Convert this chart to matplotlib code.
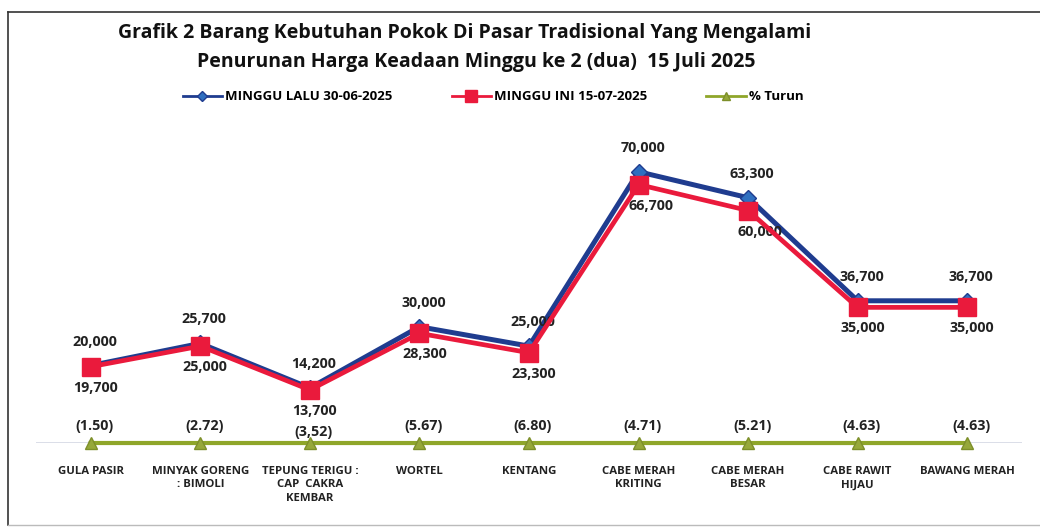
import matplotlib.pyplot as plt
from matplotlib.lines import Line2D

plt.rcParams['font.family'] = ['Open Sans', 'DejaVu Sans']

kategori = ['GULA PASIR', 'MINYAK GORENG\n: BIMOLI', 'TEPUNG TERIGU :\nCAP  CAKRA\nKEMBAR',
            'WORTEL', 'KENTANG', 'CABE MERAH\nKRITING', 'CABE MERAH\nBESAR',
            'CABE RAWIT\nHIJAU', 'BAWANG MERAH']
minggu_lalu = [20000, 25700, 14200, 30000, 25000, 70000, 63300, 36700, 36700]
minggu_ini = [19700, 25000, 13700, 28300, 23300, 66700, 60000, 35000, 35000]
persen_turun = [-1.50, -2.72, -3.52, -5.67, -6.80, -4.71, -5.21, -4.63, -4.63]
label_persen = ['(1.50)', '(2.72)', '(3,52)', '(5.67)', '(6.80)', '(4.71)', '(5.21)', '(4.63)', '(4.63)']

biru = '#1f3c8f'
merah = '#ea1a3c'
hijau = '#8fa62a'

fig = plt.figure(figsize=(10.4, 5.27), dpi=100)
ax = fig.add_axes([36 / 1040, 84 / 527, 986 / 1040, 310 / 527])
x = list(range(len(kategori)))

ax.axhline(0, color='#4a5a8a', lw=1.0, zorder=1)
ax.plot(x, minggu_lalu, color=biru, lw=3.6, marker='D', ms=8, mfc='#2f6fc0', mec=biru, zorder=3)
ax.plot(x, minggu_ini, color=merah, lw=3.4, marker='s', ms=12.5, mfc=merah, mec=merah, zorder=4)
ax.plot(x, persen_turun, color=hijau, lw=3.0, marker='^', ms=9, mfc='#96a83a', mec='#7d8f2a',
        zorder=5, clip_on=False)

ax.set_xlim(-0.5, 8.5)
ax.set_ylim(0, 80000)
ax.axis('off')

lbl = dict(fontsize=10.3, fontweight='bold', color='#222222', ha='center', va='center',
           textcoords='offset pixels')
for i in x:
    ax.annotate(f'{minggu_lalu[i]:,}', (i, minggu_lalu[i]), xytext=(4, 24), **lbl)
    dx = 12 if i in (5, 6) else 5
    ax.annotate(f'{minggu_ini[i]:,}', (i, minggu_ini[i]), xytext=(dx, -21), **lbl)
    dy = 11 if i == 2 else 17
    ax.annotate(label_persen[i], (i, 0), xytext=(4, dy), **lbl)
    ax.annotate(kategori[i], (i, 0), xytext=(0, -23), fontsize=8.2, fontweight='bold',
                color='#222222', ha='center', va='top', textcoords='offset pixels',
                linespacing=1.3)

fig.text(0.447, 1 - 33 / 527, 'Grafik 2 Barang Kebutuhan Pokok Di Pasar Tradisional Yang Mengalami',
         fontsize=14, fontweight='bold', ha='center', va='center', color='#111111')
fig.text(0.458, 1 - 62 / 527, 'Penurunan Harga Keadaan Minggu ke 2 (dua)  15 Juli 2025',
         fontsize=14, fontweight='bold', ha='center', va='center', color='#111111')

handles = [
    Line2D([], [], color=biru, lw=2, marker='D', ms=5, mfc='#2f6fc0', mec=biru),
    Line2D([], [], color=merah, lw=2, marker='s', ms=8, mfc=merah, mec=merah),
    Line2D([], [], color=hijau, lw=2, marker='^', ms=6, mfc='#96a83a', mec='#7d8f2a'),
]
fig.legend(handles, ['MINGGU LALU 30-06-2025', 'MINGGU INI 15-07-2025', '% Turun'],
           loc='center', bbox_to_anchor=(0.474, 1 - 97 / 527), ncol=3, frameon=False,
           prop={'size': 9.5, 'weight': 'bold'}, handlelength=3.0, handletextpad=0.2,
           columnspacing=4.5)

# bingkai
fig.add_artist(Line2D([8 / 1040, 8 / 1040], [2 / 527, 1 - 12 / 527], color='#333333', lw=1.2))
fig.add_artist(Line2D([8 / 1040, 1.0], [1 - 12 / 527, 1 - 12 / 527], color='#333333', lw=1.2))
fig.add_artist(Line2D([8 / 1040, 1.0], [2 / 527, 2 / 527], color='#bbbbbb', lw=1.0))

fig.savefig('out.png', dpi=100)
